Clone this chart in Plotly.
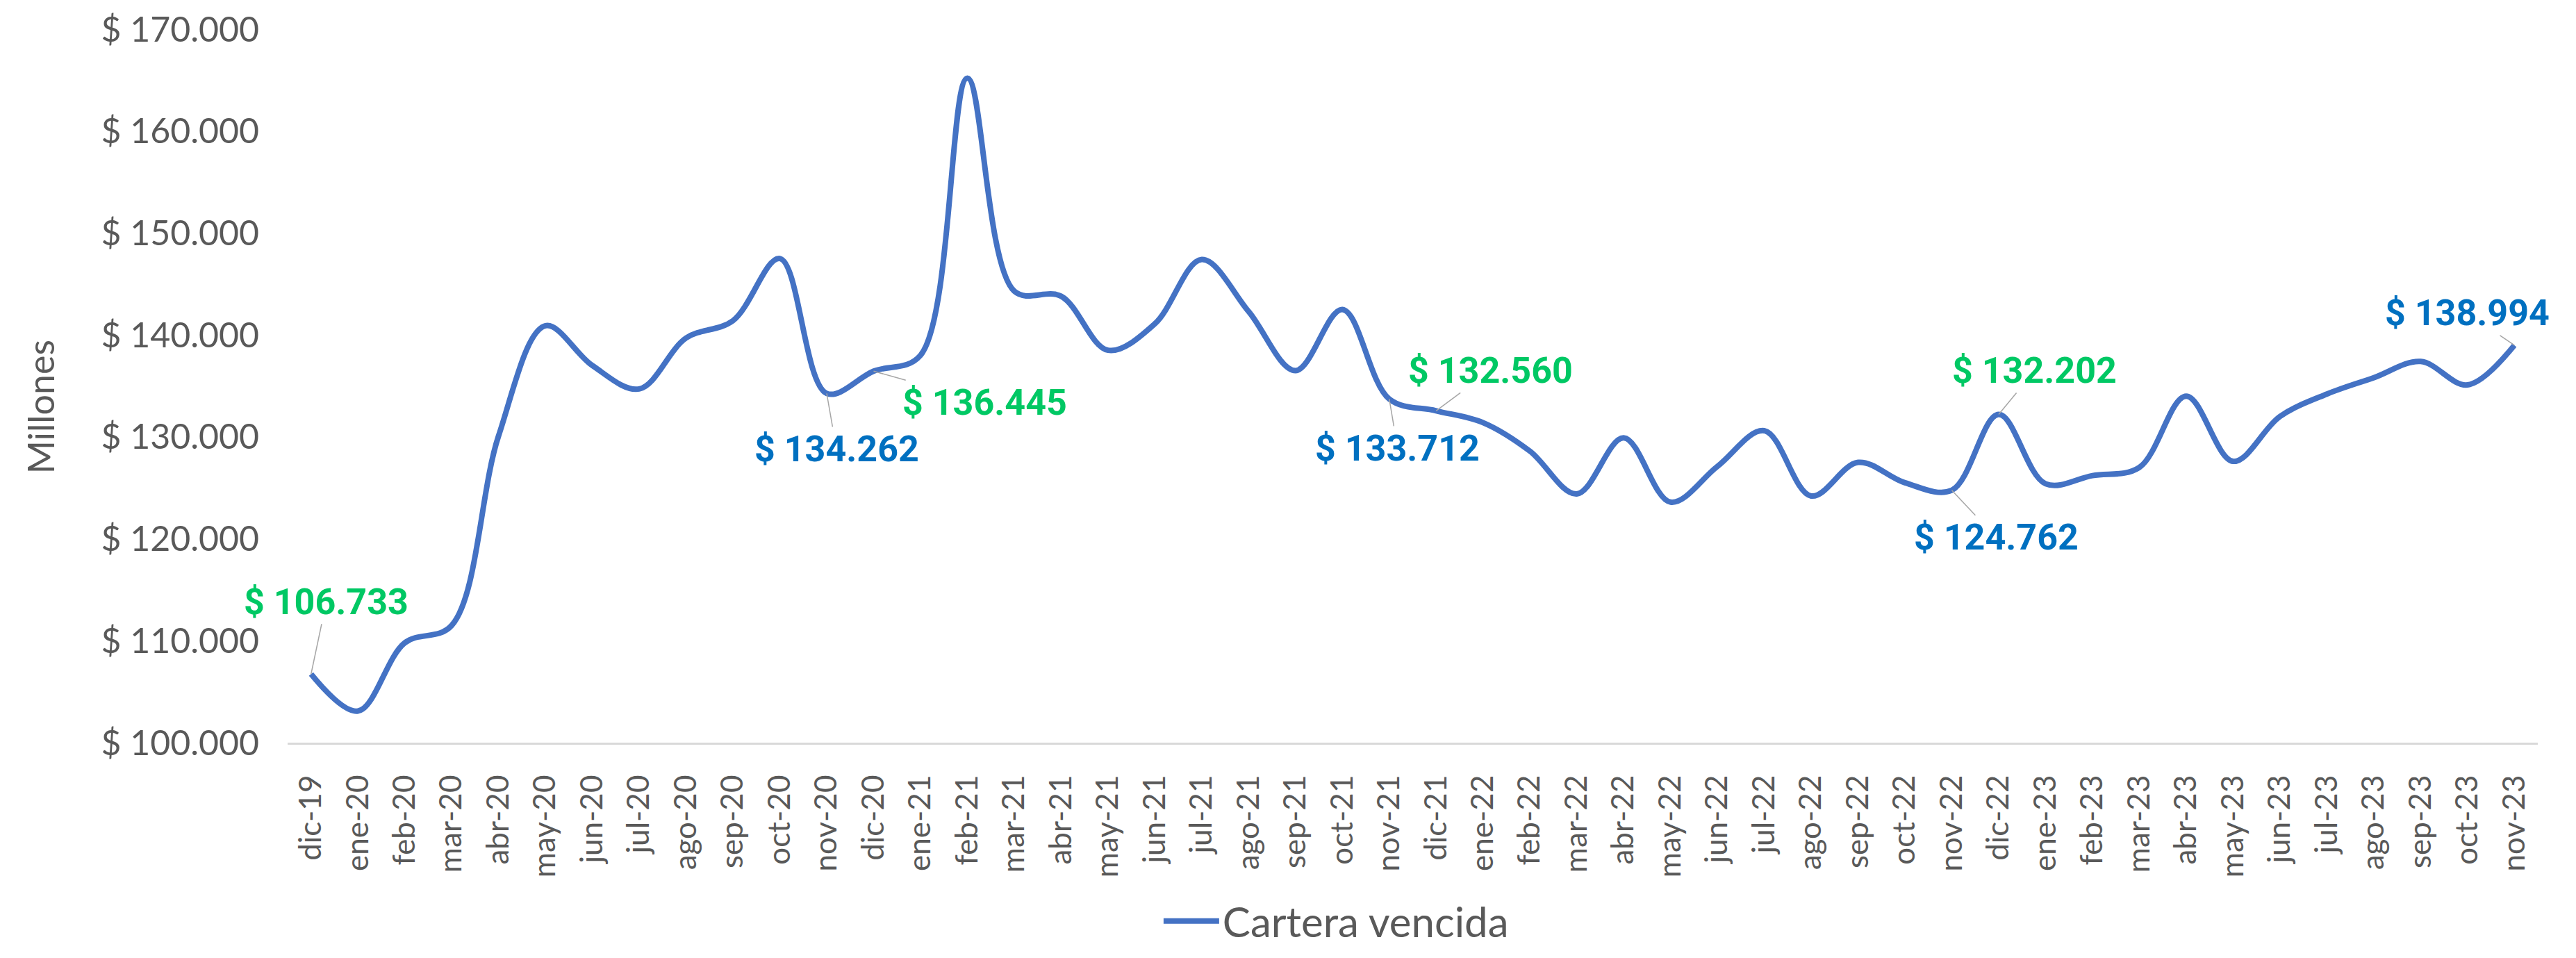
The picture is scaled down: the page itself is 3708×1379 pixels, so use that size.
import plotly.graph_objects as go

months = ["dic-19","ene-20","feb-20","mar-20","abr-20","may-20","jun-20","jul-20","ago-20","sep-20","oct-20","nov-20",
          "dic-20","ene-21","feb-21","mar-21","abr-21","may-21","jun-21","jul-21","ago-21","sep-21","oct-21","nov-21",
          "dic-21","ene-22","feb-22","mar-22","abr-22","may-22","jun-22","jul-22","ago-22","sep-22","oct-22","nov-22",
          "dic-22","ene-23","feb-23","mar-23","abr-23","may-23","jun-23","jul-23","ago-23","sep-23","oct-23","nov-23"]

cartera_vencida = [106733, 103100, 109800, 111500, 130100, 140900, 137000, 134700, 139700, 141400, 147500, 134262,
                   136445, 138000, 165200, 144300, 143800, 138500, 141100, 147400, 142300, 136500, 142500, 133712,
                   132560, 131400, 128600, 124400, 129900, 123600, 127100, 130600, 124200, 127500, 125500, 124762,
                   132202, 125400, 126200, 127000, 134000, 127600, 132000, 134200, 135800, 137400, 135100, 138994]

# labelled points: (month, colour, x-offset px, y-offset px)
label_months = ["dic-19", "nov-20", "dic-20", "nov-21", "dic-21", "nov-22", "dic-22", "nov-23"]
label_colors = ["#00C864", "#0070C0", "#00C864", "#0070C0", "#00C864", "#0070C0", "#00C864", "#0070C0"]
label_ax = [22, 14, 160, 12, 78, 64, 52, -68]
label_ay = [-104, 80, 45, 71, -58, 68, -63, -46]

y_ticks = [100000, 110000, 120000, 130000, 140000, 150000, 160000, 170000]

def fmt(v):
    return "$ " + f"{v:,.0f}".replace(",", ".")

fig = go.Figure()
fig.add_trace(go.Scatter(
    x=months, y=cartera_vencida, mode="lines", name="Cartera vencida",
    line=dict(color="#4472C4", width=8, shape="spline", smoothing=1.0),
    hoverinfo="skip",
))

annotations = []
for m, c, ax, ay in zip(label_months, label_colors, label_ax, label_ay):
    v = cartera_vencida[months.index(m)]
    annotations.append(dict(
        x=m, y=v, xref="x", yref="y", text="<b>" + fmt(v) + "</b>",
        showarrow=True, arrowhead=0, arrowwidth=1.5, arrowcolor="#A6A6A6",
        ax=ax, ay=ay, standoff=0,
        font=dict(family="Liberation Sans Narrow, Roboto, Arial Narrow, sans-serif", size=52, color=c),
    ))

annotations.append(dict(
    text="Millones", xref="paper", yref="paper", x=(50 - 406) / 3239, y=0.47,
    xanchor="center", yanchor="middle", textangle=-90, showarrow=False,
    font=dict(family="Lato, Noto Sans, sans-serif", size=52, color="#595959"),
))

fig.update_layout(
    width=3708, height=1379,
    margin=dict(l=406, r=63, t=34, b=318, autoexpand=False),
    paper_bgcolor="white", plot_bgcolor="white",
    separators=",.",
    showlegend=True,
    legend=dict(orientation="h", x=0.466, xanchor="center", y=-0.25, yanchor="middle",
                itemwidth=80,
                font=dict(family="Lato, Noto Sans, sans-serif", size=60, color="#595959")),
    annotations=annotations,
)
fig.update_xaxes(
    type="category", showgrid=False, showline=True, linecolor="#D9D9D9", linewidth=3,
    tickangle=-90, ticks="", ticklabelstandoff=26, automargin=False,
    tickfont=dict(family="Lato, Noto Sans, sans-serif", size=44, color="#595959"),
    range=[-0.5, len(months) - 0.5], zeroline=False,
)
fig.update_yaxes(
    range=[100000, 170000], tickvals=y_ticks, ticktext=[fmt(v) for v in y_ticks],
    showgrid=False, showline=False, zeroline=False, ticks="", ticklabelstandoff=40, automargin=False,
    tickfont=dict(family="Lato, Noto Sans, sans-serif", size=50, color="#595959"),
)

fig.write_html("out.html")
